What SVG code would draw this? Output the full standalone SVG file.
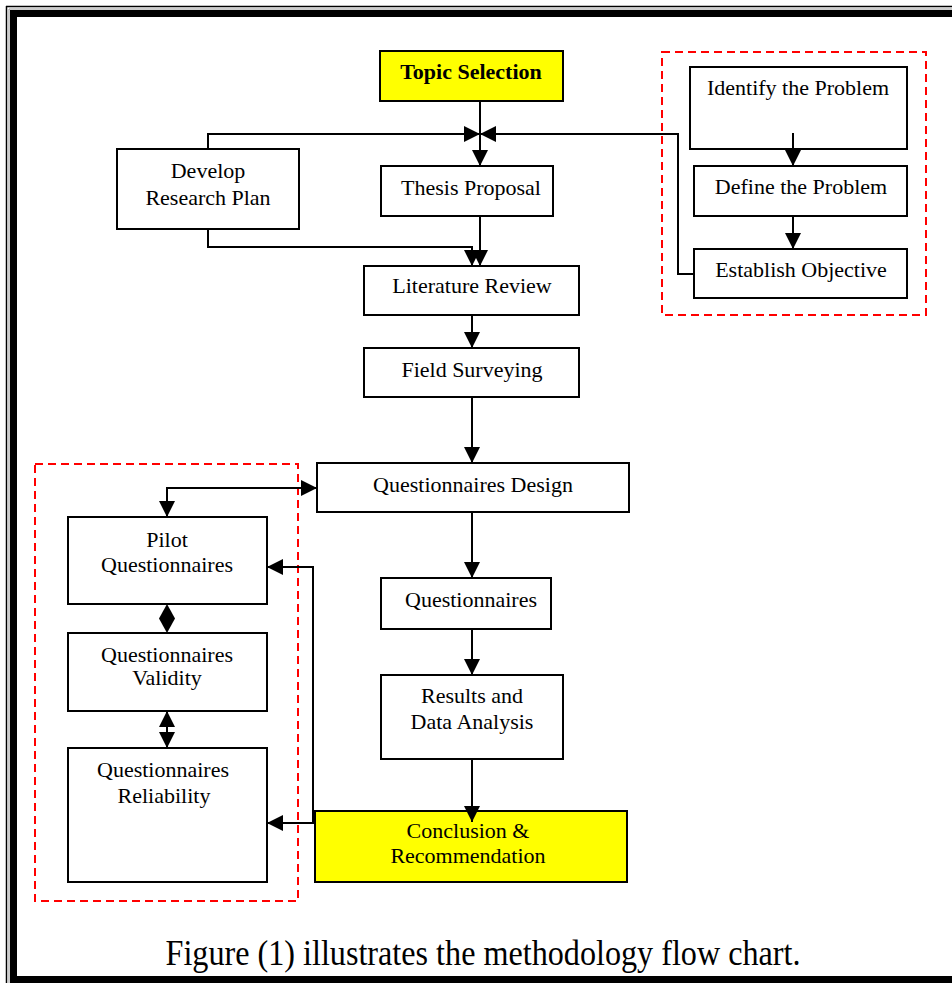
<svg xmlns="http://www.w3.org/2000/svg" width="952" height="983" viewBox="0 0 952 983">
<style>
.box{fill:#fff;stroke:#000;stroke-width:2}
.yel{fill:#ffff00;stroke:#000;stroke-width:2}
.dash{fill:none;stroke:#ff0000;stroke-width:2;stroke-dasharray:8,5}
.t{font-family:"Liberation Serif","Times New Roman",serif;font-size:22px;fill:#000;text-anchor:middle}
.b{font-weight:bold}
.ln{fill:none;stroke:#000;stroke-width:2}
</style>
<defs>
<marker id="ah" viewBox="0 0 16 16" refX="16" refY="8" markerWidth="16" markerHeight="16" markerUnits="userSpaceOnUse" orient="auto-start-reverse">
<path d="M0,0 L16,8 L0,16 z" fill="#000"/>
</marker>
</defs>
<rect width="952" height="983" fill="#fff"/>
<g id="frame">
<line x1="6.5" y1="6" x2="6.5" y2="983" stroke="#000" stroke-width="1.5"/>
<line x1="6" y1="6.5" x2="952" y2="6.5" stroke="#000" stroke-width="1.5"/>
<line x1="9" y1="9" x2="9" y2="983" stroke="#999" stroke-width="1"/>
<line x1="9" y1="9" x2="952" y2="9" stroke="#999" stroke-width="1"/>
<rect x="10" y="10" width="7" height="973" fill="#000"/>
<rect x="10" y="10" width="942" height="7" fill="#000"/>
<rect x="10" y="976" width="942" height="7" fill="#000"/>
</g>
<g id="groups">
<rect class="dash" x="662" y="52" width="264" height="263"/>
<rect class="dash" x="35" y="464" width="263" height="437"/>
</g>
<g id="topic"><rect class="yel" x="380" y="51" width="183" height="50"/><text class="t b" x="471" y="79">Topic Selection</text></g>
<g id="develop"><rect class="box" x="117" y="149" width="182" height="80"/><text class="t" x="208" y="178">Develop</text><text class="t" x="208" y="205">Research Plan</text></g>
<g id="thesis"><rect class="box" x="381" y="166" width="172" height="50"/><text class="t" x="471" y="195">Thesis Proposal</text></g>
<g id="literature"><rect class="box" x="364" y="266" width="215" height="49"/><text class="t" x="472" y="293">Literature Review</text></g>
<g id="field"><rect class="box" x="364" y="348" width="215" height="49"/><text class="t" x="472" y="377">Field Surveying</text></g>
<g id="qdesign"><rect class="box" x="317" y="463" width="312" height="49"/><text class="t" x="473" y="492">Questionnaires Design</text></g>
<g id="questionnaires"><rect class="box" x="381" y="578" width="170" height="51"/><text class="t" x="471" y="607">Questionnaires</text></g>
<g id="results"><rect class="box" x="381" y="675" width="182" height="84"/><text class="t" x="472" y="703">Results and</text><text class="t" x="472" y="729">Data Analysis</text></g>
<g id="conclusion"><rect class="yel" x="315" y="811" width="312" height="71"/><text class="t" x="468" y="838">Conclusion &amp;</text><text class="t" x="468" y="863">Recommendation</text></g>
<g id="identify"><rect class="box" x="690" y="67" width="217" height="82"/><text class="t" x="798" y="95">Identify the Problem</text></g>
<g id="define"><rect class="box" x="694" y="166" width="213" height="50"/><text class="t" x="801" y="194">Define the Problem</text></g>
<g id="establish"><rect class="box" x="694" y="249" width="213" height="49"/><text class="t" x="801" y="277">Establish Objective</text></g>
<g id="pilot"><rect class="box" x="68" y="517" width="199" height="87"/><text class="t" x="167" y="547">Pilot</text><text class="t" x="167" y="572">Questionnaires</text></g>
<g id="validity"><rect class="box" x="68" y="633" width="199" height="78"/><text class="t" x="167" y="662">Questionnaires</text><text class="t" x="167" y="685">Validity</text></g>
<g id="reliability"><rect class="box" x="68" y="748" width="199" height="134"/><text class="t" x="163" y="777">Questionnaires</text><text class="t" x="164" y="803">Reliability</text></g>
<g id="connectors">
<path class="ln" d="M480,101 V166" marker-end="url(#ah)"/>
<path class="ln" d="M208,149 V134 H480" marker-end="url(#ah)"/>
<path class="ln" d="M694,274 H678 V134 H480" marker-end="url(#ah)"/>
<path class="ln" d="M208,229 V247 H472 V266" marker-end="url(#ah)"/>
<path class="ln" d="M480,216 V266" marker-end="url(#ah)"/>
<path class="ln" d="M472,315 V348" marker-end="url(#ah)"/>
<path class="ln" d="M472,397 V463" marker-end="url(#ah)"/>
<path class="ln" d="M472,512 V578" marker-end="url(#ah)"/>
<path class="ln" d="M472,629 V675" marker-end="url(#ah)"/>
<path class="ln" d="M472,759 V822" marker-end="url(#ah)"/>
<path class="ln" d="M793,133 V166" marker-end="url(#ah)"/>
<path class="ln" d="M793,216 V249" marker-end="url(#ah)"/>
<path class="ln" d="M167,517 V488 H317" marker-start="url(#ah)" marker-end="url(#ah)"/>
<path class="ln" d="M267,567 H313 V823 H267" marker-start="url(#ah)" marker-end="url(#ah)"/>
<polygon points="167,604 175,618.5 167,633 159,618.5" fill="#000"/>
<path class="ln" d="M167,711 V748" marker-start="url(#ah)" marker-end="url(#ah)"/>
</g>
<text class="t" x="483" y="965" style="font-size:36px" textLength="635" lengthAdjust="spacingAndGlyphs">Figure (1) illustrates the methodology flow chart.</text>
</svg>
